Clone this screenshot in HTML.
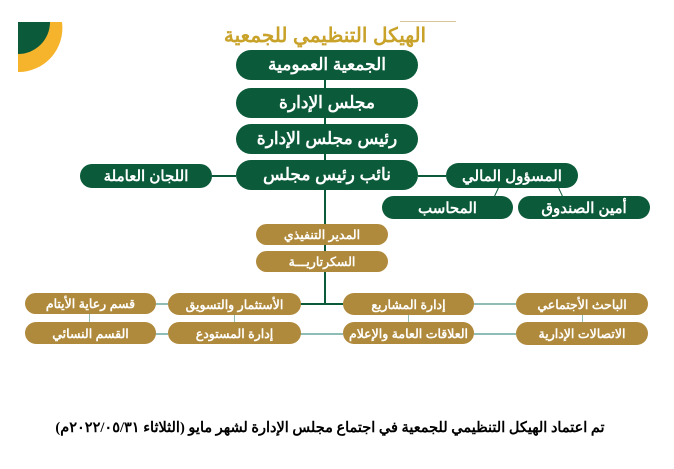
<!DOCTYPE html>
<html><head><meta charset="utf-8"><style>
body{margin:0;width:674px;height:469px;background:#fff;position:relative;overflow:hidden;font-family:"Liberation Sans","Noto Sans CJK SC",sans-serif}
.b{position:absolute;color:#fff;font-weight:bold;display:flex;align-items:center;justify-content:center;direction:rtl;white-space:nowrap}
.g{background:#0b5a3a;border-radius:16px;font-size:17px}
.s{background:#0b5a3a;border-radius:13px;font-size:15px}
.y{background:#b08a3c;border-radius:12px;font-size:12.5px}
.l{position:absolute;background:#0b5a3a}
.t{position:absolute;background:#8fbcb4}
</style></head><body>
<svg style="position:absolute;left:0;top:0" width="80" height="80">
<path d="M18 22 L62 22 A44 44 0 0 1 18 72 Z" fill="#f6b42c"/>
<path d="M18 22 L50 22 A32 32 0 0 1 18 54 Z" fill="#0b5a3a"/>
</svg>
<div style="position:absolute;left:400px;top:21px;width:56px;height:1px;background:#d9c59a"></div>
<div class="b" style="left:200px;top:21px;width:250px;height:28px;color:#c9a22a;font-size:20px">الهيكل التنظيمي للجمعية</div>
<div class="l" style="left:212px;top:175px;width:24px;height:2px"></div>
<div class="l" style="left:418px;top:175px;width:28px;height:2px"></div>
<div class="l" style="left:496px;top:187px;width:1px;height:10px;transform:rotate(25deg)"></div>
<div class="l" style="left:560px;top:187px;width:1px;height:10px;transform:rotate(-25deg)"></div>
<div class="l" style="left:324px;top:80px;width:2px;height:225px"></div>
<div class="b g" style="left:236px;top:50px;width:182px;height:30px">الجمعية العمومية</div>
<div class="b g" style="left:236px;top:88px;width:182px;height:30px">مجلس الإدارة</div>
<div class="b g" style="left:236px;top:124px;width:182px;height:30px">رئيس مجلس الإدارة</div>
<div class="b g" style="left:236px;top:160px;width:182px;height:30px">نائب رئيس مجلس</div>
<div class="b s" style="left:80px;top:164px;width:132px;height:24px">اللجان العاملة</div>
<div class="b s" style="left:446px;top:163px;width:132px;height:25px">المسؤول المالي</div>
<div class="b s" style="left:382px;top:196px;width:131px;height:23px">المحاسب</div>
<div class="b s" style="left:518px;top:196px;width:132px;height:23px">أمين الصندوق</div>
<div class="t" style="left:155px;top:303px;width:13px;height:2px"></div>
<div class="l" style="left:300px;top:303px;width:43px;height:2px"></div>
<div class="t" style="left:474px;top:303px;width:42px;height:2px"></div>
<div class="t" style="left:155px;top:333px;width:13px;height:2px"></div>
<div class="t" style="left:300px;top:333px;width:43px;height:2px"></div>
<div class="t" style="left:474px;top:333px;width:42px;height:2px"></div>
<div class="t" style="left:89px;top:314px;width:1px;height:8px"></div>
<div class="t" style="left:234px;top:314px;width:1px;height:8px"></div>
<div class="t" style="left:408px;top:314px;width:1px;height:8px"></div>
<div class="t" style="left:582px;top:314px;width:1px;height:8px"></div>
<div class="b y" style="left:256px;top:224px;width:132px;height:21px">المدير التنفيذي</div>
<div class="b y" style="left:256px;top:251px;width:132px;height:21px">السكرتاريـــة</div>
<div class="b y" style="left:25px;top:293px;width:131px;height:21px">قسم رعاية الأيتام</div>
<div class="b y" style="left:168px;top:293px;width:133px;height:22px">الأستثمار والتسويق</div>
<div class="b y" style="left:343px;top:293px;width:131px;height:22px">إدارة المشاريع</div>
<div class="b y" style="left:516px;top:293px;width:132px;height:22px">الباحث الأجتماعي</div>
<div class="b y" style="left:25px;top:322px;width:131px;height:22px">القسم النسائي</div>
<div class="b y" style="left:168px;top:322px;width:133px;height:22px">إدارة المستودع</div>
<div class="b y" style="left:343px;top:322px;width:131px;height:22px">العلاقات العامة والإعلام</div>
<div class="b y" style="left:516px;top:322px;width:132px;height:23px">الاتصالات الإدارية</div>
<div class="b" style="left:60px;top:414px;width:540px;height:28px;color:#000;font-family:'Liberation Serif','Noto Serif CJK SC',serif;font-size:14.5px">تم اعتماد الهيكل التنظيمي للجمعية في اجتماع مجلس الإدارة لشهر مايو (الثلاثاء ٢٠٢٢/٠٥/٣١م)</div>
</body></html>
